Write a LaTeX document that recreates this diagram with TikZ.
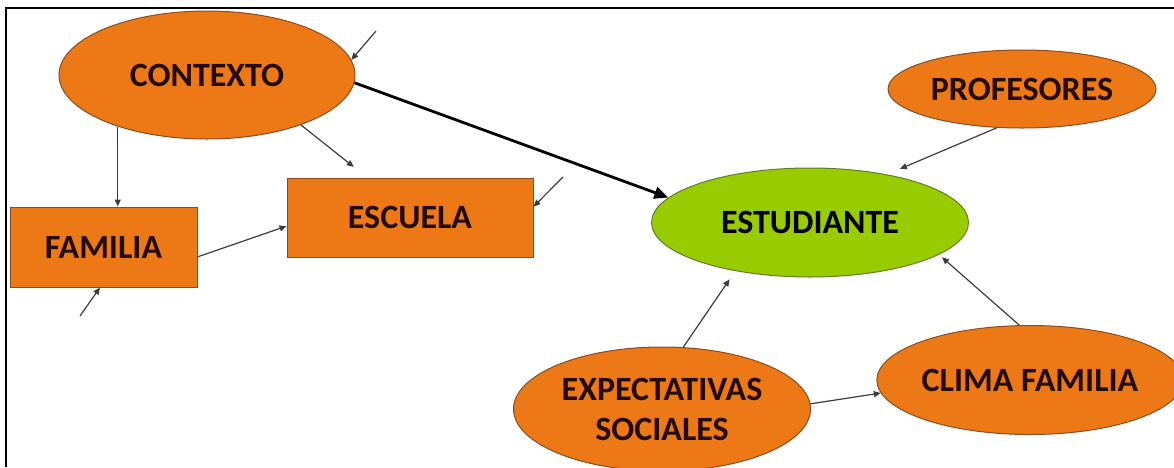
\documentclass[tikz,border=0pt]{standalone}
\usepackage{fontspec}
\setmainfont{Carlito}
\usetikzlibrary{shapes.geometric,arrows.meta}

\definecolor{factororange}{RGB}{236,121,22}
\definecolor{factorline}{RGB}{140,75,30}
\definecolor{studentgreen}{RGB}{153,204,0}
\definecolor{studentline}{RGB}{95,125,35}
\definecolor{linkgrey}{RGB}{60,60,60}
\definecolor{labeldark}{RGB}{35,12,5}

\tikzset{
  factoroval/.style={ellipse, draw=factorline, fill=factororange, line width=0.5pt,
    inner sep=0pt, text=labeldark, align=center,
    font=\fontsize{17pt}{20pt}\selectfont\bfseries},
  factorbox/.style={factoroval, rectangle},
  studentoval/.style={factoroval, draw=studentline, fill=studentgreen, text=black},
  link/.style={draw=linkgrey, line width=0.6pt, -{Triangle[length=3.5pt,width=3pt]}},
  mainlink/.style={draw=black, line width=1.4pt, -{Triangle[length=7pt,width=6pt]}}
}

\begin{document}
\begin{tikzpicture}[x=0.5pt,y=-0.5pt]
  \useasboundingbox (0,0) rectangle (1174,467);
  \draw[line width=1.2pt] (6,467) -- (6,8) -- (1174,8);

  \node[factoroval, minimum width=148pt, minimum height=64pt] (ctx) at (207,75) {CONTEXTO};
  \node[factorbox, minimum width=93.5pt, minimum height=40pt] (fam) at (103.5,247) {FAMILIA};
  \node[factorbox, minimum width=123pt, minimum height=39.5pt] (esc) at (410,217.5) {ESCUELA};
  \node[studentoval, minimum width=158.5pt, minimum height=54.5pt] (stu) at (810,222.5) {ESTUDIANTE};
  \node[factoroval, minimum width=134pt, minimum height=39pt] (prof) at (1022,89) {PROFESORES};
  \node[factoroval, minimum width=148.5pt, minimum height=62pt] (expe) at (662,409) {EXPECTATIVAS\\SOCIALES};
  \node[factoroval, minimum width=152pt, minimum height=54.5pt] (clim) at (1030,380) {CLIMA FAMILIA};

  \coordinate (ctxin) at (376,31);
  \coordinate (famin) at (80,316);
  \coordinate (escin) at (563,177);

  \draw[link] (ctx.210) -- (ctx.210 |- fam.north);
  \draw[link, shorten >=8.5pt] (ctx.-28) -- (esc.137);
  \draw[link] (fam.-6) -- (esc.184);
  \draw[mainlink] (ctx.-3) -- (stu.170);
  \draw[link, shorten >=7pt] (prof.237) -- (stu.32);
  \draw[link, shorten >=5pt] (expe.71) -- (stu.213);
  \draw[link] (expe.2) -- (clim.185);
  \draw[link, shorten >=2pt] (clim.101) -- (stu.-14);

  \draw[link] (ctxin) -- (ctx.6);
  \draw[link] (famin) -- (fam.265);
  \draw[link] (escin) -- (esc.5);
\end{tikzpicture}
\end{document}
